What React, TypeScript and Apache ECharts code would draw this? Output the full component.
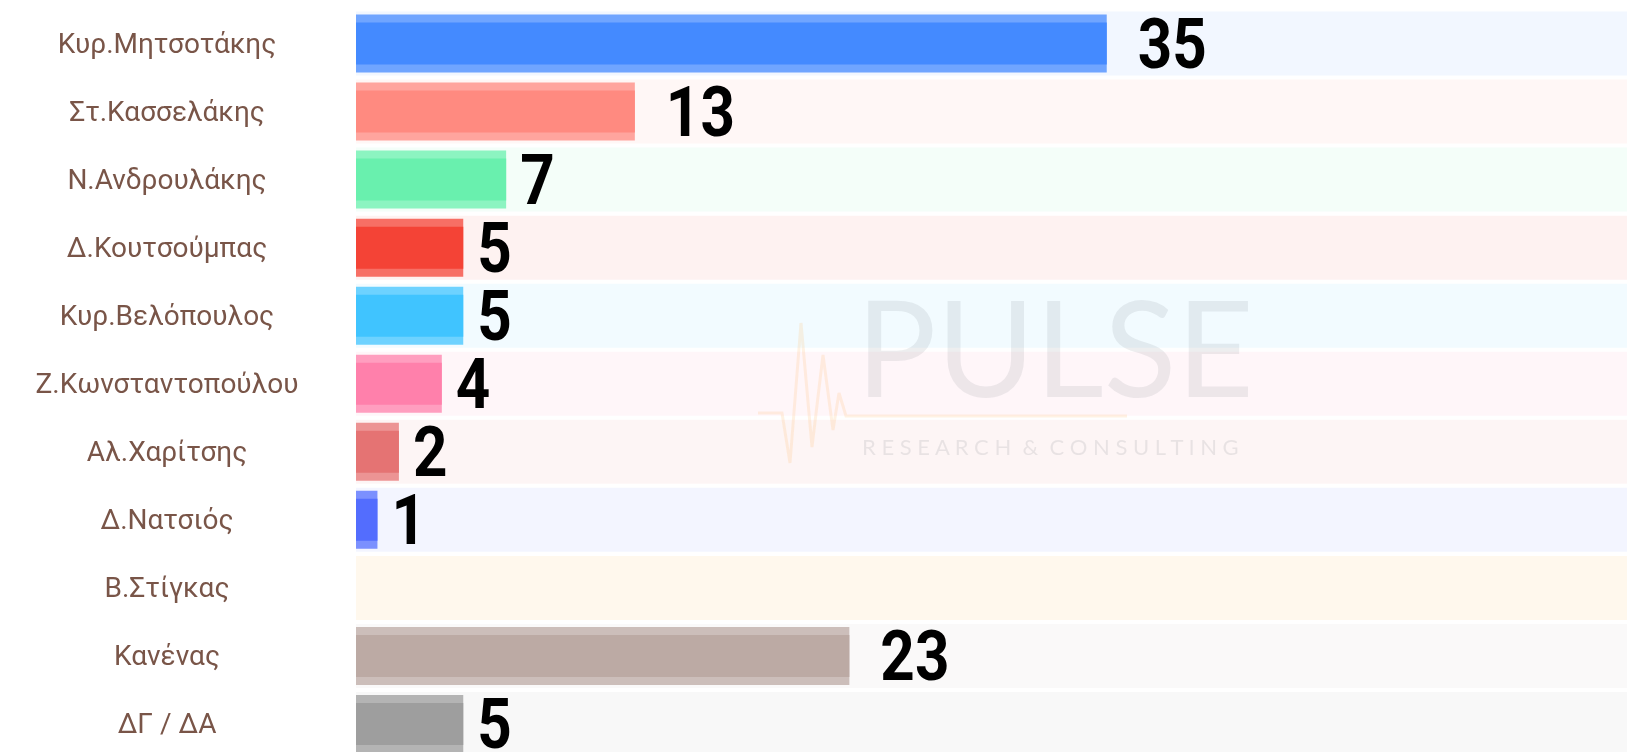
import React, { useEffect, useRef } from "react";
import * as echarts from "echarts";

const categories = [
  "Κυρ.Μητσοτάκης",
  "Στ.Κασσελάκης",
  "Ν.Ανδρουλάκης",
  "Δ.Κουτσούμπας",
  "Κυρ.Βελόπουλος",
  "Ζ.Κωνσταντοπούλου",
  "Αλ.Χαρίτσης",
  "Δ.Νατσιός",
  "Β.Στίγκας",
  "Κανένας",
  "ΔΓ / ΔΑ",
];
const values = [35, 13, 7, 5, 5, 4, 2, 1, 0, 23, 5];
const barColors = [
  "#448aff",
  "#ff8a80",
  "#69f0ae",
  "#f44336",
  "#40c4ff",
  "#ff80ab",
  "#e57373",
  "#536dfe",
  "#ff9800",
  "#bcaaa4",
  "#9e9e9e",
];
const AXIS_MAX = 60;

function rgba(hex: string, a: number) {
  const h = hex.replace("#", "");
  const r = parseInt(h.slice(0, 2), 16);
  const g = parseInt(h.slice(2, 4), 16);
  const b = parseInt(h.slice(4, 6), 16);
  return `rgba(${r},${g},${b},${a})`;
}

export default function App() {
  const ref = useRef<HTMLDivElement>(null);
  useEffect(() => {
    if (!ref.current) return;
    const chart = echarts.init(ref.current, null, { renderer: "svg" });
    const yBase = {
      type: "category" as const,
      data: categories,
      inverse: true,
      axisLine: { show: false },
      axisTick: { show: false },
      splitLine: { show: false },
    };
    chart.setOption({
      animation: false,
      grid: { left: 356, top: 9.5, height: 748.5, width: 1287 },
      xAxis: { type: "value", min: 0, max: AXIS_MAX, show: false },
      yAxis: [
        {
          ...yBase,
          axisLabel: {
            align: "center",
            margin: 189,
            color: "#795548",
            fontSize: 28,
            fontFamily: "Roboto, sans-serif",
          },
        },
        { ...yBase, show: false },
        { ...yBase, show: false },
      ],
      series: [
        {
          type: "bar",
          yAxisIndex: 0,
          barWidth: 64,
          silent: true,
          data: categories.map((c, i) => ({
            value: AXIS_MAX,
            itemStyle: { color: rgba(barColors[i], 0.07) },
          })),
        },
        {
          type: "bar",
          yAxisIndex: 1,
          barWidth: 58,
          data: values.map((v, i) => ({
            value: v,
            itemStyle: { color: rgba(barColors[i], 0.75) },
          })),
        },
        {
          type: "bar",
          yAxisIndex: 2,
          barWidth: 42,
          data: values.map((v, i) => ({
            value: v,
            itemStyle: { color: barColors[i] },
          })),
        },
        {
          type: "custom",
          yAxisIndex: 2,
          z: 20,
          data: values.map((v, i) => [v, i]),
          encode: { x: 0, y: 1 },
          renderItem: (params: any, api: any) => {
            const v = api.value(0);
            if (!v) return null;
            const p = api.coord([v, api.value(1)]);
            const txt = String(v);
            return {
              type: "text",
              x: p[0] + 17 * txt.length - 3,
              y: p[1],
              scaleX: 0.86,
              style: {
                text: txt,
                fontSize: 70,
                fontWeight: "bold",
                fontFamily: "Roboto, sans-serif",
                fill: "#000",
                textAlign: "left",
                textVerticalAlign: "middle",
              },
            };
          },
        },
      ],
      graphic: [
        {
          type: "polyline",
          z: 50,
          silent: true,
          shape: {
            points: [
              [758, 413],
              [782, 413],
              [790, 463],
              [801, 323],
              [812, 447],
              [823, 355],
              [833, 430],
              [839, 393],
              [846, 416],
              [1127, 416],
            ],
          },
          style: { stroke: "rgba(255,160,60,0.14)", lineWidth: 3, fill: null },
        },
        {
          type: "text",
          z: 50,
          silent: true,
          x: 856,
          y: 345,
          style: {
            text: "PULSE",
            fontSize: 134,
            fontFamily: "Lato, sans-serif",
            fontWeight: 400,
            fill: "rgba(90,100,110,0.11)",
            textVerticalAlign: "middle",
          },
        },
        {
          type: "text",
          z: 50,
          silent: true,
          x: 862,
          y: 446,
          style: {
            text: "R E S E A R C H  &  C O N S U L T I N G",
            fontSize: 22,
            fontFamily: "Lato, sans-serif",
            fill: "rgba(90,100,110,0.13)",
            textVerticalAlign: "middle",
          },
        },
      ],
    });
    return () => chart.dispose();
  }, []);
  return (
    <div
      ref={ref}
      style={{ position: "fixed", left: 0, top: 0, width: 1660, height: 770 }}
    />
  );
}
